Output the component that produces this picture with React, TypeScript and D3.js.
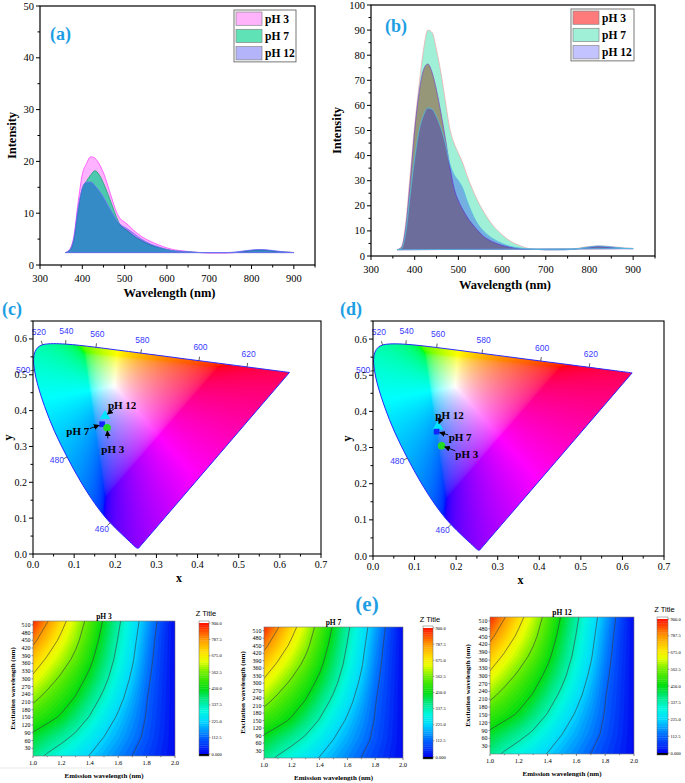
import { useMemo } from 'react';
import * as d3 from 'd3';

const SERIF = '"Liberation Serif", "Times New Roman", serif';
const SANS = '"Liberation Sans", Arial, sans-serif';
const TAG_BLUE = '#1d9ee3';

// ---------- emission spectra (a) and (b) ----------
const wavelengths = [
  360, 370, 380, 390, 400, 410, 420, 430, 440, 450, 460, 470, 480, 490, 500, 510, 520, 540, 560, 580, 600, 620,
  640, 660, 680, 700, 720, 740, 760, 780, 800, 820, 840, 860, 880, 900,
];
const phNames = ['pH 3', 'pH 7', 'pH 12'];

const aPH3 = [
  2.4, 3.0, 5.5, 12.0, 17.5, 19.6, 20.9, 20.6, 19.5, 17.8, 15.4, 12.8, 10.4, 8.9, 8.3, 7.6, 6.8, 5.5, 4.6, 3.9, 3.3,
  2.9, 2.7, 2.5, 2.4, 2.3, 2.3, 2.3, 2.4, 2.6, 2.8, 2.9, 2.8, 2.6, 2.5, 2.4,
];
const aPH7 = [
  2.4, 2.8, 4.8, 10.5, 14.8, 16.2, 17.4, 18.2, 17.4, 15.8, 13.8, 11.6, 9.4, 7.7, 7.0, 6.4, 5.7, 4.7, 3.9, 3.4, 3.0,
  2.7, 2.6, 2.5, 2.4, 2.4, 2.4, 2.4, 2.4, 2.6, 2.8, 2.9, 2.8, 2.6, 2.5, 2.4,
];
const aPH12 = [
  2.4, 2.9, 5.2, 11.0, 14.8, 16.0, 16.0, 15.3, 14.3, 13.1, 11.6, 10.2, 8.8, 7.8, 7.3, 6.8, 6.2, 5.0, 4.1, 3.5, 3.0,
  2.7, 2.6, 2.5, 2.4, 2.4, 2.4, 2.4, 2.5, 2.7, 2.9, 3.0, 2.9, 2.7, 2.5, 2.4,
];

const bPH3 = [
  2.5, 3.5, 12, 30, 50, 65, 74, 76.5, 73, 66, 57, 47, 36, 27, 22, 18.5, 15.5, 11, 7.5, 5.5, 4.2, 3.4, 2.9, 2.7, 2.6,
  2.5, 2.5, 2.5, 2.6, 3.0, 3.5, 3.8, 3.6, 3.3, 3.0, 2.9,
];
const bPH7 = [
  2.5, 3.7, 14, 33, 52, 68, 82, 90, 89, 82, 73, 62, 51, 45, 41, 37, 32, 23.5, 17, 12, 8.5, 5.8, 4.2, 3.0, 2.6, 2.5,
  2.5, 2.6, 2.7, 3.3, 3.8, 4.0, 3.9, 3.6, 3.2, 3.0,
];
const bPH12 = [
  2.5, 3.0, 10, 25, 39, 50, 56, 59, 58.5, 55.5, 51, 45, 37, 32.5, 30, 27, 22, 14, 9.5, 6.8, 5.0, 3.8, 3.2, 2.8, 2.6,
  2.5, 2.5, 2.5, 2.6, 3.1, 3.6, 4.0, 3.8, 3.4, 3.1, 3.0,
];

const spectrumXTicks = [300, 400, 500, 600, 700, 800, 900];
const spectrumXMinor = [350, 450, 550, 650, 750, 850, 950];
const aYTicks = [0, 10, 20, 30, 40, 50];
const bYTicks = [0, 10, 20, 30, 40, 50, 60, 70, 80, 90, 100];

// ---------- CIE 1976 u'v' spectral locus ----------
const locusNm = [
  380, 400, 420, 440, 450, 460, 465, 470, 475, 480, 485, 490, 495, 500, 505, 510, 515, 520, 525, 530, 540, 550, 560,
  570, 580, 590, 600, 610, 620, 640, 680,
];
const locusU = [
  0.2568, 0.2557, 0.2522, 0.2347, 0.2161, 0.1877, 0.169, 0.1441, 0.1147, 0.0828, 0.0521, 0.0282, 0.0119, 0.0035,
  0.0014, 0.0046, 0.0123, 0.0231, 0.036, 0.0501, 0.0792, 0.1127, 0.1531, 0.2026, 0.2623, 0.3315, 0.4035, 0.4692,
  0.5203, 0.583, 0.6234,
];
const locusV = [
  0.0166, 0.0159, 0.0169, 0.035, 0.0549, 0.0871, 0.1119, 0.151, 0.2044, 0.2708, 0.3427, 0.4117, 0.4698, 0.5131,
  0.5432, 0.5638, 0.577, 0.5837, 0.5861, 0.5868, 0.5856, 0.5821, 0.5766, 0.5694, 0.5604, 0.5501, 0.5393, 0.5296,
  0.5219, 0.5125, 0.5065,
];
const locusTickNm = [460, 480, 500, 520, 540, 560, 580, 600, 620];
const cieXTicks = [0, 0.1, 0.2, 0.3, 0.4, 0.5, 0.6, 0.7];
const cieYTicks = [0, 0.1, 0.2, 0.3, 0.4, 0.5, 0.6];

const cieNames = ['pH 12', 'pH 7', 'pH 3'];
const cieShapes = ['triangle', 'square', 'circle'];
// panel (c)
const cU = [0.175, 0.168, 0.18];
const cV = [0.385, 0.362, 0.352];
const cLabelU = [0.182, 0.081, 0.166];
const cLabelV = [0.417, 0.343, 0.293];
const cTailU = [0.198, 0.138, 0.182];
const cTailV = [0.406, 0.35, 0.322];
// panel (d)
const dU = [0.156, 0.153, 0.165];
const dV = [0.358, 0.344, 0.305];
const dLabelU = [0.15, 0.182, 0.198];
const dLabelV = [0.389, 0.328, 0.283];
const dTailU = [0.162, 0.181, 0.198];
const dTailV = [0.377, 0.335, 0.291];

// ---------- excitation/emission maps (e) ----------
const contourX = [1.0, 1.1, 1.2, 1.3, 1.4, 1.5, 1.6, 1.7, 1.8, 1.9, 2.0];
const contourY = [0, 75, 150, 225, 300, 375, 450, 525];
const contourRows = [
  [370, 327, 292, 257, 221, 185, 149, 112, 78, 44, 10],
  [432, 397, 362, 323, 274, 225, 183, 140, 97, 54, 10],
  [506, 475, 439, 386, 332, 272, 214, 161, 108, 59, 10],
  [584, 535, 490, 444, 381, 318, 251, 184, 116, 63, 10],
  [656, 601, 546, 489, 429, 359, 285, 209, 129, 67, 10],
  [731, 663, 604, 541, 468, 392, 313, 233, 144, 72, 10],
  [808, 731, 654, 584, 502, 417, 333, 250, 159, 78, 10],
  [880, 793, 705, 619, 531, 441, 352, 267, 178, 89, 10],
];
const lineLevels = [112.5, 225, 337.5, 450, 562.5, 675, 787.5];
const barLabels = [0, 112.5, 225, 337.5, 450, 562.5, 675, 787.5, 900];
const mapXTicks = [1.0, 1.2, 1.4, 1.6, 1.8, 2.0];
const mapYTicks = [30, 60, 90, 120, 150, 180, 210, 240, 270, 300, 330, 360, 390, 420, 450, 480, 510];

const cmapStops = [0, 112.5, 225, 300, 380, 450, 562.5, 640, 700, 787.5, 900];
const cmapColors = [
  '#0000f0', '#0060ff', '#00d8ff', '#00f8e0', '#00e880', '#00dd10', '#70ee00', '#e8ff00', '#ffe000', '#ff9800',
  '#ff1000',
];
const cmap = d3.scaleLinear<string>().domain(cmapStops).range(cmapColors).interpolate(d3.interpolateRgb).clamp(true);
const fillLevels = d3.range(0, 900, 15);

type Frame = { l: number; r: number; t: number; b: number };
type SeriesStyle = { values: number[]; fill: string; fillOpacity: number; stroke: string };

function SpectrumPanel(p: {
  f: Frame;
  yMax: number;
  yTicks: number[];
  series: SeriesStyle[];
  swatches: string[];
  legend: { x: number; y: number; w: number; rowH: number };
  tag: string;
  tagX: number;
  tagY: number;
  tickLabelY: number;
  xTitleY: number;
  yTitleX: number;
}) {
  const { f } = p;
  const x = d3.scaleLinear().domain([300, 950]).range([f.l, f.r]);
  const y = d3.scaleLinear().domain([0, p.yMax]).range([f.b, f.t]);
  const line = d3
    .line<number>()
    .x((_, i) => x(wavelengths[i]))
    .y((v) => y(v))
    .curve(d3.curveMonotoneX);
  const step = p.yTicks[1] - p.yTicks[0];
  const minorY = p.yTicks.slice(0, -1).map((t) => t + step / 2);
  return (
    <g>
      {p.series.map((s, i) => (
        <path
          key={i}
          d={(line(s.values) ?? '') + 'Z'}
          fill={s.fill}
          fillOpacity={s.fillOpacity}
          stroke={s.stroke}
          strokeWidth={0.8}
        />
      ))}
      <rect x={f.l} y={f.t} width={f.r - f.l} height={f.b - f.t} fill="none" stroke="#000" strokeWidth={1.2} />
      {spectrumXTicks.map((t) => (
        <g key={t}>
          <line x1={x(t)} x2={x(t)} y1={f.b} y2={f.b + 4} stroke="#000" />
          <text x={x(t)} y={p.tickLabelY} textAnchor="middle" fontFamily={SERIF} fontSize={10.5}>
            {t}
          </text>
        </g>
      ))}
      {spectrumXMinor.map((t) => (
        <line key={t} x1={x(t)} x2={x(t)} y1={f.b} y2={f.b + 2.5} stroke="#000" />
      ))}
      {p.yTicks.map((t) => (
        <g key={t}>
          <line x1={f.l - 4} x2={f.l} y1={y(t)} y2={y(t)} stroke="#000" />
          <text x={f.l - 6} y={y(t) + 3.5} textAnchor="end" fontFamily={SERIF} fontSize={10.5}>
            {t}
          </text>
        </g>
      ))}
      {minorY.map((t) => (
        <line key={t} x1={f.l - 2.5} x2={f.l} y1={y(t)} y2={y(t)} stroke="#000" />
      ))}
      <text
        x={(f.l + f.r) / 2 - 8}
        y={p.xTitleY}
        textAnchor="middle"
        fontFamily={SERIF}
        fontWeight="bold"
        fontSize={12.5}
      >
        Wavelength (nm)
      </text>
      <text
        transform={`translate(${p.yTitleX},${(f.t + f.b) / 2}) rotate(-90)`}
        textAnchor="middle"
        fontFamily={SERIF}
        fontWeight="bold"
        fontSize={12.5}
      >
        Intensity
      </text>
      <text x={p.tagX} y={p.tagY} fontFamily={SERIF} fontWeight="bold" fontSize={18} fill={TAG_BLUE}>
        {p.tag}
      </text>
      <rect
        x={p.legend.x}
        y={p.legend.y}
        width={p.legend.w}
        height={p.legend.rowH * 3}
        fill="#fff"
        stroke="#555"
        strokeWidth={0.8}
      />
      {phNames.map((n, i) => (
        <g key={n}>
          <rect
            x={p.legend.x + 2}
            y={p.legend.y + i * p.legend.rowH + 2}
            width={26}
            height={p.legend.rowH - 4}
            fill={p.swatches[i]}
            stroke="#888"
            strokeWidth={0.7}
          />
          <text
            x={p.legend.x + 31}
            y={p.legend.y + i * p.legend.rowH + p.legend.rowH / 2 + 4}
            fontFamily={SERIF}
            fontWeight="bold"
            fontSize={11.5}
          >
            {n}
          </text>
        </g>
      ))}
    </g>
  );
}

function makeCieImage(w: number, h: number) {
  const canvas = document.createElement('canvas');
  canvas.width = w;
  canvas.height = h;
  const ctx = canvas.getContext('2d');
  if (!ctx) return '';
  const img = ctx.createImageData(w, h);
  for (let j = 0; j < h; j++) {
    for (let i = 0; i < w; i++) {
      const u = ((i + 0.5) / w) * 0.7;
      const v = (1 - (j + 0.5) / h) * 0.65;
      const d = 6 * u - 16 * v + 12;
      const cx = (9 * u) / d;
      const cy = (4 * v) / d;
      const X = cx / cy;
      const Z = (1 - cx - cy) / cy;
      let r = 3.2406 * X - 1.5372 - 0.4986 * Z;
      let g = -0.9689 * X + 1.8758 + 0.0415 * Z;
      let b = 0.0557 * X - 0.204 + 1.057 * Z;
      const m = Math.min(r, g, b, 0);
      r -= m;
      g -= m;
      b -= m;
      const M = Math.max(r, g, b);
      const k = (j * w + i) * 4;
      img.data[k] = 255 * Math.pow(r / M, 1 / 2.2);
      img.data[k + 1] = 255 * Math.pow(g / M, 1 / 2.2);
      img.data[k + 2] = 255 * Math.pow(b / M, 1 / 2.2);
      img.data[k + 3] = 255;
    }
  }
  ctx.putImageData(img, 0, 0);
  return canvas.toDataURL();
}

function CiePanel(p: {
  id: string;
  f: Frame;
  image: string;
  u: number[];
  v: number[];
  labelU: number[];
  labelV: number[];
  tailU: number[];
  tailV: number[];
  tag: string;
  tagX: number;
  tagY: number;
  tickLabelY: number;
  xTitleY: number;
  yTitleX: number;
}) {
  const { f } = p;
  const x = d3.scaleLinear().domain([0, 0.7]).range([f.l, f.r]);
  const y = d3.scaleLinear().domain([0, 0.65]).range([f.b, f.t]);
  const pts = locusNm.map((_, i) => [x(locusU[i]), y(locusV[i])] as [number, number]);
  const locusPath = (d3.line().curve(d3.curveCatmullRom)(pts) ?? '') + 'Z';
  const wx = x(0.1978);
  const wy = y(0.4683);
  const minorX = cieXTicks.slice(0, -1).map((t) => t + 0.05);
  const minorY = cieYTicks.map((t) => t + 0.05);
  return (
    <g>
      <defs>
        <clipPath id={`locus-${p.id}`}>
          <path d={locusPath} />
        </clipPath>
      </defs>
      <image
        href={p.image}
        x={x(0)}
        y={y(0.65)}
        width={x(0.7) - x(0)}
        height={y(0) - y(0.65)}
        preserveAspectRatio="none"
        clipPath={`url(#locus-${p.id})`}
      />
      <path d={locusPath} fill="none" stroke="#2a2aff" strokeWidth={1} />
      {locusTickNm.map((nm) => {
        const i = locusNm.indexOf(nm);
        const [px, py] = pts[i];
        const tx = pts[i + 1][0] - pts[i - 1][0];
        const ty = pts[i + 1][1] - pts[i - 1][1];
        const len = Math.hypot(tx, ty);
        let nx = ty / len;
        let ny = -tx / len;
        if (nx * (px - wx) + ny * (py - wy) < 0) {
          nx = -nx;
          ny = -ny;
        }
        return (
          <g key={nm}>
            <line x1={px} y1={py} x2={px + nx * 4} y2={py + ny * 4} stroke="#333" strokeWidth={0.8} />
            <text
              x={px + nx * 11.5}
              y={py + ny * 11.5 - 2}
              textAnchor="middle"
              dominantBaseline="central"
              fontFamily={SANS}
              fontSize={8.5}
              fill="#3a3aff"
            >
              {nm}
            </text>
          </g>
        );
      })}
      <rect x={f.l} y={f.t} width={f.r - f.l} height={f.b - f.t} fill="none" stroke="#000" strokeWidth={1.1} />
      {cieXTicks.map((t) => (
        <g key={t}>
          <line x1={x(t)} x2={x(t)} y1={f.b} y2={f.b + 4} stroke="#000" />
          <text x={x(t)} y={p.tickLabelY} textAnchor="middle" fontFamily={SERIF} fontSize={10}>
            {t.toFixed(1)}
          </text>
        </g>
      ))}
      {minorX.map((t) => (
        <line key={t} x1={x(t)} x2={x(t)} y1={f.b} y2={f.b + 2.5} stroke="#000" />
      ))}
      {cieYTicks.map((t) => (
        <g key={t}>
          <line x1={f.l - 4} x2={f.l} y1={y(t)} y2={y(t)} stroke="#000" />
          <text x={f.l - 6} y={y(t) + 3.5} textAnchor="end" fontFamily={SERIF} fontSize={10}>
            {t.toFixed(1)}
          </text>
        </g>
      ))}
      {minorY.map((t) => (
        <line key={t} x1={f.l - 2.5} x2={f.l} y1={y(t)} y2={y(t)} stroke="#000" />
      ))}
      <text x={(f.l + f.r) / 2 + 2} y={p.xTitleY} textAnchor="middle" fontFamily={SERIF} fontWeight="bold" fontSize={12}>
        x
      </text>
      <text
        transform={`translate(${p.yTitleX},${(f.t + f.b) / 2}) rotate(-90)`}
        textAnchor="middle"
        fontFamily={SERIF}
        fontWeight="bold"
        fontSize={12}
      >
        y
      </text>
      <text x={p.tagX} y={p.tagY} fontFamily={SERIF} fontWeight="bold" fontSize={18} fill={TAG_BLUE}>
        {p.tag}
      </text>
      {cieNames.map((n, i) => {
        const mx = x(p.u[i]);
        const my = y(p.v[i]);
        const ax = x(p.tailU[i]);
        const ay = y(p.tailV[i]);
        const dl = Math.hypot(ax - mx, ay - my);
        const ex = mx + ((ax - mx) / dl) * 3.5;
        const ey = my + ((ay - my) / dl) * 3.5;
        const shape = cieShapes[i];
        return (
          <g key={n}>
            {shape === 'triangle' && (
              <path
                d={d3.symbol(d3.symbolTriangle, 48)() ?? ''}
                transform={`translate(${mx},${my})`}
                fill="#00e4ff"
              />
            )}
            {shape === 'square' && (
              <path d={d3.symbol(d3.symbolSquare, 32)() ?? ''} transform={`translate(${mx},${my})`} fill="#1424ff" />
            )}
            {shape === 'circle' && <circle cx={mx} cy={my} r={3.8} fill="#22dd22" />}
            <line x1={ax} y1={ay} x2={ex} y2={ey} stroke="#000" strokeWidth={0.9} markerEnd="url(#arrowHead)" />
            <text
              x={x(p.labelU[i])}
              y={y(p.labelV[i])}
              dominantBaseline="central"
              fontFamily={SERIF}
              fontWeight="bold"
              fontSize={11}
            >
              {n}
            </text>
          </g>
        );
      })}
    </g>
  );
}

function ContourPanel(p: {
  id: string;
  title: string;
  f: Frame;
  bar: Frame;
  titleY: number;
  xTitleY: number;
  yTitleX: number;
  zTitleY: number;
}) {
  const { f, bar } = p;
  const x = d3.scaleLinear().domain([1, 2]).range([f.l, f.r]);
  const y = d3.scaleLinear().domain([0, 525]).range([f.b, f.t]);
  const nx = contourX.length;
  const ny = contourY.length;
  const gx = d3.scaleLinear().domain([0, nx - 1]).range([contourX[0], contourX[nx - 1]]);
  const gy = d3.scaleLinear().domain([0, ny - 1]).range([contourY[0], contourY[ny - 1]]);
  const values = contourRows.flat();
  const proj = d3.geoTransform({
    point: function (px: number, py: number) {
      this.stream.point(x(gx(px - 0.5)), y(gy(py - 0.5)));
    },
  });
  const path = d3.geoPath(proj);
  const bands = d3.contours().size([nx, ny]).thresholds(fillLevels)(values);
  const lines = d3.contours().size([nx, ny]).thresholds(lineLevels)(values);
  const zb = d3.scaleLinear().domain([0, 900]).range([bar.b - 2, bar.t + 2]);
  const minorX = mapXTicks.slice(0, -1).map((t) => t + 0.1);
  return (
    <g>
      <defs>
        <clipPath id={`map-${p.id}`}>
          <rect x={f.l} y={f.t} width={f.r - f.l} height={f.b - f.t} />
        </clipPath>
      </defs>
      <g clipPath={`url(#map-${p.id})`}>
        <rect x={f.l} y={f.t} width={f.r - f.l} height={f.b - f.t} fill={cmap(0)} />
        {bands.map((c) => (
          <path key={c.value} d={path(c) ?? ''} fill={cmap(c.value + 7.5)} stroke={cmap(c.value + 7.5)} strokeWidth={0.3} />
        ))}
        {lines.map((c) => (
          <path key={c.value} d={path(c) ?? ''} fill="none" stroke="#3a3a3a" strokeWidth={0.6} />
        ))}
      </g>
      <rect x={f.l} y={f.t} width={f.r - f.l} height={f.b - f.t} fill="none" stroke="#777" strokeWidth={0.6} />
      {mapXTicks.map((t) => (
        <g key={t}>
          <line x1={x(t)} x2={x(t)} y1={f.b} y2={f.b + 2} stroke="#333" strokeWidth={0.6} />
          <text x={x(t)} y={f.b + 9} textAnchor="middle" fontFamily={SERIF} fontSize={6.5}>
            {t.toFixed(1)}
          </text>
        </g>
      ))}
      {minorX.map((t) => (
        <line key={t} x1={x(t)} x2={x(t)} y1={f.b} y2={f.b + 1.2} stroke="#333" strokeWidth={0.5} />
      ))}
      {mapYTicks.map((t) => (
        <g key={t}>
          <line x1={f.l - 1.5} x2={f.l} y1={y(t)} y2={y(t)} stroke="#333" strokeWidth={0.5} />
          <text x={f.l - 2.5} y={y(t) + 2} textAnchor="end" fontFamily={SERIF} fontSize={6}>
            {t}
          </text>
        </g>
      ))}
      <text x={(f.l + f.r) / 2} y={p.titleY} textAnchor="middle" fontFamily={SERIF} fontWeight="bold" fontSize={7.5}>
        {p.title}
      </text>
      <text x={(f.l + f.r) / 2} y={p.xTitleY} textAnchor="middle" fontFamily={SERIF} fontWeight="bold" fontSize={7}>
        Emission wavelength (nm)
      </text>
      <text
        transform={`translate(${p.yTitleX},${(f.t + f.b) / 2}) rotate(-90)`}
        textAnchor="middle"
        fontFamily={SERIF}
        fontWeight="bold"
        fontSize={7}
      >
        Excitation wavelength (nm)
      </text>
      {fillLevels.map((lv) => (
        <rect
          key={lv}
          x={bar.l}
          y={zb(lv + 15)}
          width={bar.r - bar.l}
          height={zb(lv) - zb(lv + 15) + 0.3}
          fill={cmap(lv + 7.5)}
        />
      ))}
      <rect x={bar.l} y={bar.t} width={bar.r - bar.l} height={2} fill="#fff" />
      <rect x={bar.l} y={bar.b - 2} width={bar.r - bar.l} height={2} fill="#000" />
      <rect x={bar.l} y={bar.t} width={bar.r - bar.l} height={bar.b - bar.t} fill="none" stroke="#666" strokeWidth={0.5} />
      {barLabels.map((t) => (
        <g key={t}>
          <line x1={bar.r} x2={bar.r + 1.5} y1={zb(t)} y2={zb(t)} stroke="#333" strokeWidth={0.4} />
          <text x={bar.r + 2.5} y={zb(t)} dominantBaseline="central" fontFamily={SERIF} fontSize={4.5}>
            {t === 0 ? '0.000' : t.toFixed(1)}
          </text>
        </g>
      ))}
      <text x={(bar.l + bar.r) / 2 + 2} y={p.zTitleY} textAnchor="middle" fontFamily={SANS} fontSize={7.5}>
        Z Title
      </text>
    </g>
  );
}

export default function App() {
  const cieImage = useMemo(() => makeCieImage(280, 260), []);
  return (
    <>
      <style>{'body{margin:0;background:#fff}'}</style>
      <svg width={685} height={783} viewBox="0 0 685 783" style={{ display: 'block' }}>
        <defs>
          <marker id="arrowHead" markerWidth={6} markerHeight={6} refX={5} refY={3} orient="auto" markerUnits="userSpaceOnUse">
            <path d="M0,0 L6,3 L0,6 Z" fill="#000" />
          </marker>
        </defs>
        <rect width={685} height={783} fill="#fff" />

        <SpectrumPanel
          f={{ l: 40, r: 315, t: 6, b: 265 }}
          yMax={50}
          yTicks={aYTicks}
          series={[
            { values: aPH3, fill: '#ff00ff', fillOpacity: 0.3, stroke: '#ff44ff' },
            { values: aPH7, fill: '#00d28c', fillOpacity: 0.7, stroke: '#1fa070' },
            { values: aPH12, fill: '#0000ff', fillOpacity: 0.3, stroke: '#7070ff' },
          ]}
          swatches={['#ffb3fa', '#5fe3b6', '#b4b4fa']}
          legend={{ x: 234, y: 10, w: 62, rowH: 17.3 }}
          tag="(a)"
          tagX={50}
          tagY={40}
          tickLabelY={282}
          xTitleY={297}
          yTitleX={16}
        />
        <SpectrumPanel
          f={{ l: 371, r: 655, t: 5, b: 256 }}
          yMax={100}
          yTicks={bYTicks}
          series={[
            { values: bPH7, fill: '#a0f0d7', fillOpacity: 1, stroke: '#e8b0b0' },
            { values: bPH3, fill: '#8c3c19', fillOpacity: 0.5, stroke: '#8050c0' },
            { values: bPH12, fill: '#0000ff', fillOpacity: 0.27, stroke: '#50c0e0' },
          ]}
          swatches={['#ff7a7a', '#a0f0d7', '#c3c3ff']}
          legend={{ x: 571, y: 9, w: 63, rowH: 17.3 }}
          tag="(b)"
          tagX={385}
          tagY={32}
          tickLabelY={273}
          xTitleY={289}
          yTitleX={341}
        />

        <CiePanel
          id="c"
          f={{ l: 33, r: 321, t: 321, b: 554 }}
          image={cieImage}
          u={cU}
          v={cV}
          labelU={cLabelU}
          labelV={cLabelV}
          tailU={cTailU}
          tailV={cTailV}
          tag="(c)"
          tagX={2}
          tagY={315}
          tickLabelY={568}
          xTitleY={582}
          yTitleX={12}
        />
        <CiePanel
          id="d"
          f={{ l: 373, r: 664, t: 321, b: 556 }}
          image={cieImage}
          u={dU}
          v={dV}
          labelU={dLabelU}
          labelV={dLabelV}
          tailU={dTailU}
          tailV={dTailV}
          tag="(d)"
          tagX={340}
          tagY={315}
          tickLabelY={570}
          xTitleY={584}
          yTitleX={351}
        />

        <text x={367} y={611} textAnchor="middle" fontFamily={SERIF} fontWeight="bold" fontSize={21} fill={TAG_BLUE}>
          (e)
        </text>
        <line x1={0} x2={123} y1={768} y2={768} stroke="#e2e2e2" strokeWidth={0.8} />
        <ContourPanel
          id="e1"
          title="pH 3"
          f={{ l: 33, r: 175, t: 621, b: 756 }}
          bar={{ l: 199, r: 209, t: 621, b: 756 }}
          titleY={619}
          xTitleY={778}
          yTitleX={15}
          zTitleY={616}
        />
        <ContourPanel
          id="e2"
          title="pH 7"
          f={{ l: 264, r: 403, t: 627, b: 758 }}
          bar={{ l: 423, r: 433, t: 626, b: 759 }}
          titleY={625}
          xTitleY={780}
          yTitleX={245}
          zTitleY={622}
        />
        <ContourPanel
          id="e3"
          title="pH 12"
          f={{ l: 490, r: 634, t: 617, b: 754 }}
          bar={{ l: 657, r: 668, t: 617, b: 755 }}
          titleY={615}
          xTitleY={776}
          yTitleX={470}
          zTitleY={612}
        />
      </svg>
    </>
  );
}
